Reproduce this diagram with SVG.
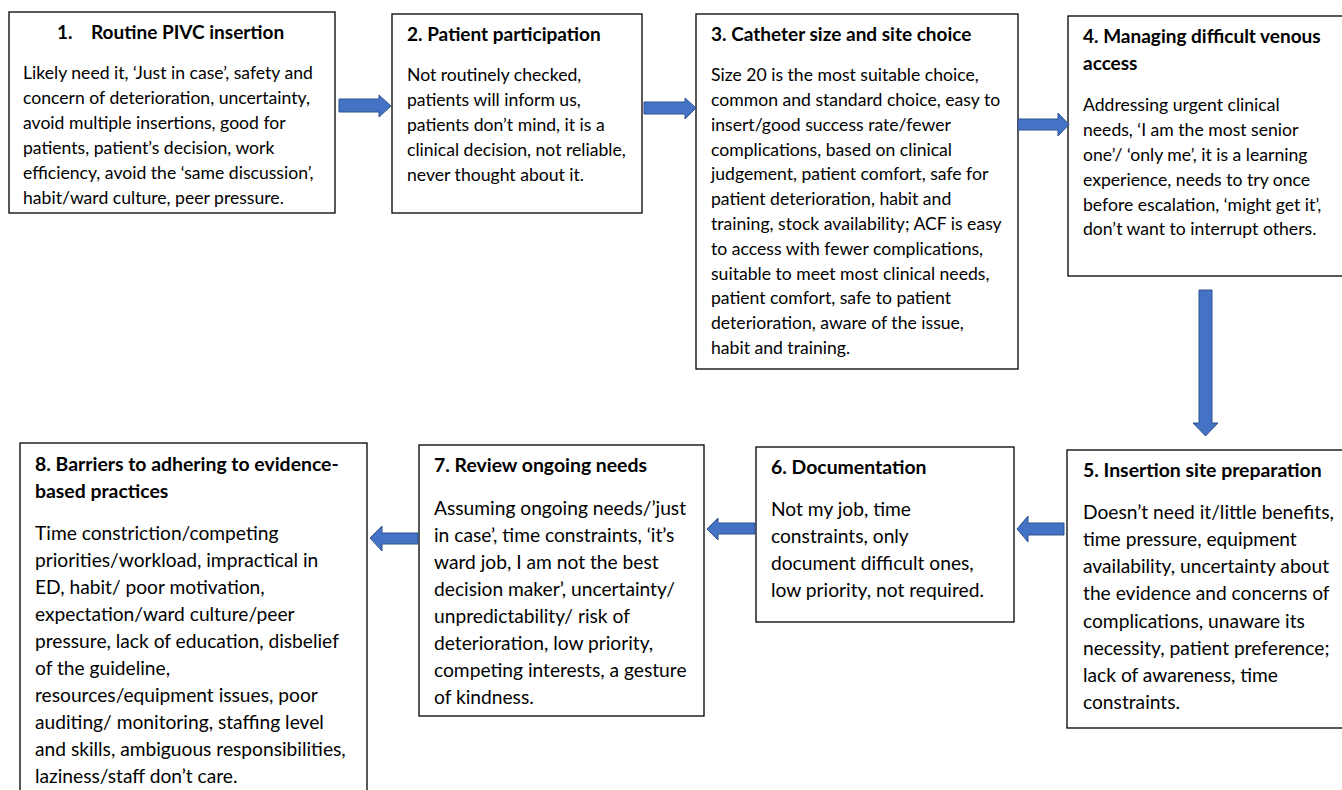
<svg xmlns="http://www.w3.org/2000/svg" width="1342" height="790" viewBox="0 0 1342 790">
<style>
.box{fill:#fff;stroke:#000;stroke-width:1.3}
.t{font-family:Lato,"Liberation Sans",sans-serif;font-weight:bold;font-size:19px;fill:#000}
.b{font-family:Lato,"Liberation Sans",sans-serif;font-size:17.6px;fill:#000}
.t2{font-family:Lato,"Liberation Sans",sans-serif;font-weight:bold;font-size:19.4px;fill:#000}
.b2{font-family:Lato,"Liberation Sans",sans-serif;font-size:19.2px;fill:#000}
.arr{fill:#4472C4;stroke:#2F528F;stroke-width:1}
</style>
<rect width="1342" height="790" fill="#fff"/>
<g id="n1">
<rect class="box" x="9" y="12" width="326" height="201"/>
<text class="t" x="57" y="39">1.</text><text class="t" x="91" y="39">Routine PIVC insertion</text>
<text class="b" x="23" y="79">Likely need it, ‘Just in case’, safety and</text>
<text class="b" x="23" y="104">concern of deterioration, uncertainty,</text>
<text class="b" x="23" y="129">avoid multiple insertions, good for</text>
<text class="b" x="23" y="154">patients, patient’s decision, work</text>
<text class="b" x="23" y="179">efficiency, avoid the ‘same discussion’,</text>
<text class="b" x="23" y="204">habit/ward culture, peer pressure.</text>
</g>
<g id="n2">
<rect class="box" x="392" y="14" width="250" height="199"/>
<text class="t" x="407" y="41">2. Patient participation</text>
<text class="b" x="407" y="81">Not routinely checked,</text>
<text class="b" x="407" y="106">patients will inform us,</text>
<text class="b" x="407" y="131">patients don’t mind, it is a</text>
<text class="b" x="407" y="156">clinical decision, not reliable,</text>
<text class="b" x="407" y="181">never thought about it.</text>
</g>
<g id="n3">
<rect class="box" x="696" y="14" width="322" height="355"/>
<text class="t" x="711" y="41">3. Catheter size and site choice</text>
<text class="b" x="711" y="81">Size 20 is the most suitable choice,</text>
<text class="b" x="711" y="106">common and standard choice, easy to</text>
<text class="b" x="711" y="131">insert/good success rate/fewer</text>
<text class="b" x="711" y="156">complications, based on clinical</text>
<text class="b" x="711" y="180">judgement, patient comfort, safe for</text>
<text class="b" x="711" y="205">patient deterioration, habit and</text>
<text class="b" x="711" y="230">training, stock availability; ACF is easy</text>
<text class="b" x="711" y="255">to access with fewer complications,</text>
<text class="b" x="711" y="280">suitable to meet most clinical needs,</text>
<text class="b" x="711" y="304">patient comfort, safe to patient</text>
<text class="b" x="711" y="329">deterioration, aware of the issue,</text>
<text class="b" x="711" y="354">habit and training.</text>
</g>
<g id="n4">
<rect class="box" x="1068" y="16" width="280" height="260"/>
<text class="t" x="1083" y="43">4. Managing difficult venous</text>
<text class="t" x="1083" y="70">access</text>
<text class="b" x="1083" y="111">Addressing urgent clinical</text>
<text class="b" x="1083" y="136">needs, ‘I am the most senior</text>
<text class="b" x="1083" y="161">one’/ ‘only me’, it is a learning</text>
<text class="b" x="1083" y="186">experience, needs to try once</text>
<text class="b" x="1083" y="211">before escalation, ‘might get it’,</text>
<text class="b" x="1083" y="235">don’t want to interrupt others.</text>
</g>
<g id="n5">
<rect class="box" x="1067" y="450" width="281" height="278"/>
<text class="t2" x="1083" y="477">5. Insertion site preparation</text>
<text class="b2" x="1083" y="519">Doesn’t need it/little benefits,</text>
<text class="b2" x="1083" y="546">time pressure, equipment</text>
<text class="b2" x="1083" y="573">availability, uncertainty about</text>
<text class="b2" x="1083" y="600">the evidence and concerns of</text>
<text class="b2" x="1083" y="628">complications, unaware its</text>
<text class="b2" x="1083" y="655">necessity, patient preference;</text>
<text class="b2" x="1083" y="682">lack of awareness, time</text>
<text class="b2" x="1083" y="709">constraints.</text>
</g>
<g id="n6">
<rect class="box" x="756" y="447" width="258" height="175"/>
<text class="t2" x="771" y="474">6. Documentation</text>
<text class="b2" x="771" y="516">Not my job, time</text>
<text class="b2" x="771" y="543">constraints, only</text>
<text class="b2" x="771" y="570">document difficult ones,</text>
<text class="b2" x="771" y="597">low priority, not required.</text>
</g>
<g id="n7">
<rect class="box" x="419" y="445" width="285" height="271"/>
<text class="t2" x="434" y="472">7. Review ongoing needs</text>
<text class="b2" x="434" y="515">Assuming ongoing needs/’just</text>
<text class="b2" x="434" y="542">in case’, time constraints, ‘it’s</text>
<text class="b2" x="434" y="569">ward job, I am not the best</text>
<text class="b2" x="434" y="596">decision maker’, uncertainty/</text>
<text class="b2" x="434" y="623">unpredictability/ risk of</text>
<text class="b2" x="434" y="650">deterioration, low priority,</text>
<text class="b2" x="434" y="677">competing interests, a gesture</text>
<text class="b2" x="434" y="704">of kindness.</text>
</g>
<g id="n8">
<rect class="box" x="20" y="443" width="347" height="360"/>
<text class="t2" x="35" y="471">8. Barriers to adhering to evidence-</text>
<text class="t2" x="35" y="498">based practices</text>
<text class="b2" x="35" y="540">Time constriction/competing</text>
<text class="b2" x="35" y="567">priorities/workload, impractical in</text>
<text class="b2" x="35" y="594">ED, habit/ poor motivation,</text>
<text class="b2" x="35" y="621">expectation/ward culture/peer</text>
<text class="b2" x="35" y="648">pressure, lack of education, disbelief</text>
<text class="b2" x="35" y="675">of the guideline,</text>
<text class="b2" x="35" y="702">resources/equipment issues, poor</text>
<text class="b2" x="35" y="729">auditing/ monitoring, staffing level</text>
<text class="b2" x="35" y="756">and skills, ambiguous responsibilities,</text>
<text class="b2" x="35" y="783">laziness/staff don’t care.</text>
</g>
<g id="connectors">
<path class="arr" d="M339,99 H379 V95 L391,106 L379,117 V112 H339 Z"/>
<path class="arr" d="M644,102 H685 V98 L696,108 L685,119 V114 H644 Z"/>
<path class="arr" d="M1018,119 H1058 V113 L1069,124.5 L1058,136 V130 H1018 Z"/>
<path class="arr" d="M1199,290 H1212 V423 H1218 L1205.5,436 L1193,423 H1199 Z"/>
<path class="arr" d="M1064,523 H1028 V516 L1017,529 L1028,542 V535 H1064 Z"/>
<path class="arr" d="M755,523 H718 V518 L707,529 L718,540 V534 H755 Z"/>
<path class="arr" d="M418,533 H382 V526 L370,538 L382,551 V544 H418 Z"/>
</g>
</svg>
